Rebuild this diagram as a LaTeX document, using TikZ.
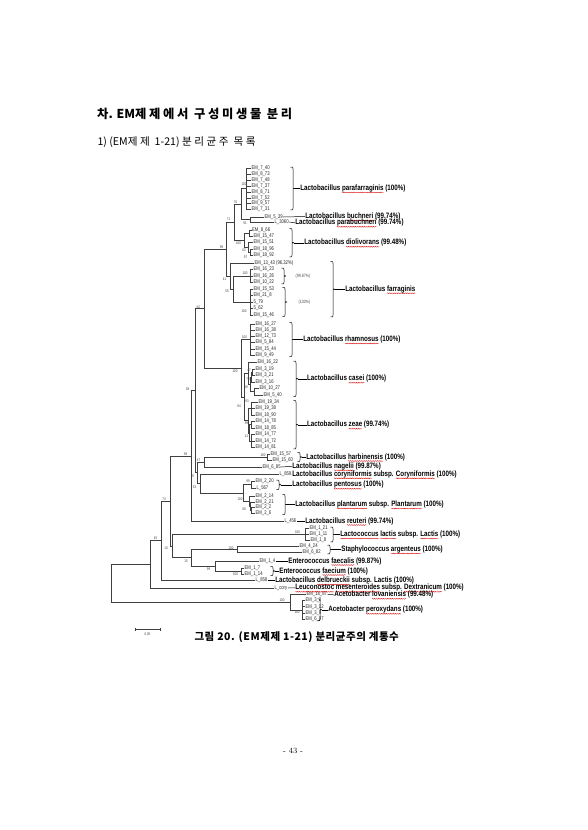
\documentclass[tikz,border=0pt]{standalone}
\usepackage{fontspec}
\usetikzlibrary{decorations.pathmorphing}
\newfontfamily\kor{Noto Sans CJK KR}
\newfontfamily\korH[LetterSpace=22]{Noto Sans CJK KR}
\newfontfamily\korS[LetterSpace=24]{Noto Sans CJK KR}
\newfontfamily\korC[LetterSpace=5]{Noto Sans CJK KR}
\newfontfamily\lfont[FakeStretch=0.78]{Liberation Sans}
\newfontfamily\sfont[FakeStretch=0.8]{Liberation Sans}
\newsavebox\sqbox
\newlength\sqw
\newcommand\sq[1]{\sbox\sqbox{#1}\setlength\sqw{\wd\sqbox}\rlap{\tikz[overlay]\draw[red!85!black,line width=0.3pt,decorate,decoration={snake,amplitude=0.45pt,segment length=1.8pt}] (0pt,-2pt) -- (\sqw,-2pt);}\usebox\sqbox}
\tikzset{
 br/.style={draw=black!75,line width=0.55pt},
 lf/.style={font=\lfont\fontsize{5.4}{5.4}\selectfont,inner sep=0.4pt,anchor=west,text=black!85},
 sp/.style={font=\sfont\bfseries\fontsize{7.8}{7.8}\selectfont,inner sep=0.2pt,anchor=west},
 bsl/.style={font=\lfont\fontsize{3.8}{3.8}\selectfont,inner sep=0pt,text=black!75},
 pct/.style={font=\lfont\fontsize{4.6}{4.6}\selectfont,inner sep=0.4pt,anchor=west,text=black!70},
 brkst/.style={draw=black,line width=0.5pt},
}
\newcommand\lv[4]{\node[lf] (#1) at (#2,#3) {#4};}
\newcommand\bv[3]{\node[bsl] at (#1,#2) {#3};}
\newcommand\nd[3]{\coordinate (#1) at (#2,#3);}
\newcommand\cn[2]{\foreach \chn in {#2} {\draw[br] (#1) |- (\chn);}}
\newcommand\brk[4]{%
 \draw[brkst] ({#1-2.5},#2) .. controls (#1,#2) .. (#1,{#2+2}) -- (#1,{#4-1.5}) .. controls (#1,#4) .. ({#1+2},#4);
 \draw[brkst] ({#1+2},#4) .. controls (#1,#4) .. (#1,{#4+1.5}) -- (#1,{#3-2}) .. controls (#1,#3) .. ({#1-2.5},#3);}
\begin{document}
\begin{tikzpicture}[x=1pt,y=-1pt]
\fill[white] (0,0) rectangle (587,830);
\useasboundingbox (0,0) rectangle (587,830);
% headings
\node[anchor=west,font=\bfseries\fontsize{12.3}{13}\selectfont,inner sep=0] (h1) at (97,114) {{\korH 차}{\kor. EM}{\korH 제제에서 구성미생물 분리}};
\node[anchor=west,font=\fontsize{10.6}{11}\selectfont,inner sep=0] (h2) at (97.3,142.3) {{\kor 1) (EM}{\korS 제제 }{\kor 1-21) }{\korS 분리균주 목록}};
% leaves
\lv{a1}{251}{168}{EM\_7\_40}
\lv{a2}{251}{174}{EM\_8\_73}
\lv{a3}{251}{180}{EM\_7\_48}
\lv{a4}{251}{186}{EM\_7\_37}
\lv{a5}{251}{192}{EM\_8\_71}
\lv{a6}{251}{198}{EM\_7\_52}
\lv{a7}{251}{203.5}{EM\_9\_57}
\lv{a8}{251}{209}{EM\_7\_31}
\lv{b1}{264}{217}{EM\_5\_39}
\lv{b2}{274}{222}{L\_3060}
\lv{d1a}{251.5}{230}{EM\_8\_66}
\lv{d1b}{253}{236}{EM\_15\_47}
\lv{d1c}{253}{242.5}{EM\_15\_51}
\lv{d1d}{253}{249}{EM\_18\_96}
\lv{d1e}{253}{255.5}{EM\_18\_92}
\lv{f0}{254}{263}{EM\_13\_43 (96.32\%)}
\lv{fa}{253}{269.5}{EM\_16\_23}
\lv{fb}{253}{276}{EM\_16\_26}
\lv{fc}{253}{282.5}{EM\_10\_22}
\lv{fd}{253}{289}{EM\_15\_53}
\lv{fe}{253}{295.5}{EM\_21\_8}
\lv{ff}{253}{302}{5\_79}
\lv{fg}{253}{308.5}{5\_62}
\lv{fh}{253}{315}{EM\_15\_46}
\lv{ra}{255}{324}{EM\_16\_27}
\lv{rb}{255}{330.2}{EM\_16\_38}
\lv{rc}{255}{336.4}{EM\_12\_73}
\lv{rd}{255}{342.6}{EM\_5\_84}
\lv{re}{255}{348.8}{EM\_15\_44}
\lv{rf}{255}{355}{EM\_9\_49}
\lv{ca}{257}{362.5}{EM\_16\_22}
\lv{cb}{255}{369}{EM\_3\_19}
\lv{cc}{255}{375.5}{EM\_3\_21}
\lv{cd}{255}{382}{EM\_3\_16}
\lv{ce}{259}{388.5}{EM\_10\_27}
\lv{cf}{263}{395}{EM\_5\_40}
\lv{za}{258}{402}{EM\_19\_34}
\lv{zb}{255}{408.5}{EM\_19\_38}
\lv{zc}{255}{415}{EM\_18\_90}
\lv{zd}{255}{421.5}{EM\_14\_78}
\lv{ze}{255}{428}{EM\_18\_85}
\lv{zf}{255}{434.5}{EM\_14\_77}
\lv{zg}{255}{441}{EM\_14\_72}
\lv{zh}{255}{447.5}{EM\_14\_81}
\lv{ha}{270}{454}{EM\_15\_57}
\lv{hb}{272}{460}{EM\_15\_60}
\lv{na}{262}{467}{EM\_6\_85}
\lv{co}{279}{474}{L\_859}
\lv{pa}{255}{481.5}{EM\_2\_20}
\lv{pb}{256}{488}{L\_567}
\lv{qa}{255}{496}{EM\_2\_14}
\lv{qb}{255}{502}{EM\_2\_21}
\lv{qc}{255}{507.5}{EM\_2\_2}
\lv{qd}{255}{513}{EM\_2\_6}
\lv{rt}{284}{521}{L\_456}
\lv{la}{309}{528.5}{EM\_1\_21}
\lv{lb}{309}{534.5}{EM\_1\_11}
\lv{lc}{310}{540.5}{EM\_1\_8}
\lv{sa}{299}{546.5}{EM\_4\_24}
\lv{sb}{302}{552.5}{EM\_6\_82}
\lv{ea}{259}{561}{EM\_1\_4}
\lv{eb}{244}{568}{EM\_1\_7}
\lv{ec}{244}{574}{EM\_1\_14}
\lv{de}{255}{580.5}{L\_858}
\lv{lu}{274}{588}{L\_cory}
\lv{aa}{306}{594.5}{EM\_18\_87}
\lv{ab}{305}{600.5}{EM\_3\_3}
\lv{ac}{305}{606.7}{EM\_3\_12}
\lv{ad}{305}{613}{EM\_3\_9}
\lv{ae}{305}{619}{EM\_6\_97}
% internal nodes
\nd{P1}{246}{188.5}\cn{P1}{a1.west,a2.west,a3.west,a4.west,a5.west,a6.west,a7.west,a8.west}
\nd{B}{250}{219.5}\cn{B}{b1.west,b2.west}
\nd{N76}{241.7}{204}\cn{N76}{P1,B}
\nd{d3}{249.5}{233}\cn{d3}{d1a.west,d1b.west}
\nd{d1}{250.5}{252.25}\cn{d1}{d1d.west,d1e.west}
\nd{d2}{248.5}{247.4}\cn{d2}{d1c.west,d1}
\nd{d4}{244}{240.2}\cn{d4}{d3,d2}
\nd{N71}{234}{222.1}\cn{N71}{N76,d4}
\nd{f1}{250}{276}\cn{f1}{fa.west,fb.west,fc.west}
\nd{f2}{250}{302}\cn{f2}{fd.west,fe.west,ff.west,fg.west,fh.west}
\nd{f3}{233}{289}\cn{f3}{f1,f2}
\nd{f4}{230}{276}\cn{f4}{f0.west,f3}
\nd{N99}{226.7}{249}\cn{N99}{N71,f4}
\nd{r1}{250}{339.5}\cn{r1}{ra.west,rb.west,rc.west,rd.west,re.west,rf.west}
\nd{c1}{252.5}{372.25}\cn{c1}{cb.west,cc.west}
\nd{c2}{251.5}{377.1}\cn{c2}{c1,cd.west}
\nd{c4}{254}{391.75}\cn{c4}{ce.west,cf.west}
\nd{c3}{250}{384.4}\cn{c3}{c2,c4}
\nd{c5}{248.5}{373.5}\cn{c5}{ca.west,c3}
\nd{z1}{251}{408.5}\cn{z1}{za.west,zb.west,zc.west}
\nd{z2}{251.5}{424.75}\cn{z2}{zd.west,ze.west}
\nd{z3}{251.5}{441}\cn{z3}{zf.west,zg.west,zh.west}
\nd{z4}{249.5}{432.9}\cn{z4}{z2,z3}
\nd{z5}{248}{420.7}\cn{z5}{z1,z4}
\nd{CZ}{244}{397.1}\cn{CZ}{c5,z5}
\nd{R}{241.7}{368.3}\cn{R}{r1,CZ}
\nd{N44}{204}{308.65}\cn{N44}{N99,R}
\nd{hb0}{267}{457}\cn{hb0}{ha.west,hb.west}
\nd{H}{204}{462}\cn{H}{hb0,na.west}
\nd{pe}{251}{484.75}\cn{pe}{pa.west,pb.west}
\nd{pl1}{251.5}{510.25}\cn{pl1}{qc.west,qd.west}
\nd{pl2}{250.5}{506.1}\cn{pl2}{qb.west,pl1}
\nd{pl3}{249}{501}\cn{pl3}{qa.west,pl2}
\nd{PP}{243}{492.9}\cn{PP}{pe,pl3}
\nd{Q}{200}{483.4}\cn{Q}{co.west,PP}
\nd{L}{197.5}{472.7}\cn{L}{H,Q}
\nd{N38}{195}{390.7}\cn{N38}{N44,L}
\nd{N58}{191.7}{455.85}\cn{N58}{N38,rt.west}
\nd{lac}{305}{534.5}\cn{lac}{la.west,lb.west,lc.west}
\nd{st}{237}{549.5}\cn{st}{sa.west,sb.west}
\nd{fm}{241}{571}\cn{fm}{eb.west,ec.west}
\nd{E}{215}{566}\cn{E}{ea.west,fm}
\nd{S}{191.7}{557.75}\cn{S}{st,E}
\nd{T}{172}{546.1}\cn{T}{lac,S}
\nd{U}{170}{501}\cn{U}{N58,T}
\nd{V}{161}{540.75}\cn{V}{U,de.west}
\nd{W}{150}{564.4}\cn{W}{V,lu.west}
\nd{A2}{302}{609.8}\cn{A2}{ab.west,ac.west,ad.west,ae.west}
\nd{A}{290}{602.1}\cn{A}{aa.west,A2}
\nd{root}{111.7}{583.2}\cn{root}{W,A}
% bootstrap values
\bv{244}{184.5}{100}
\bv{235.5}{202}{76}
\bv{245}{223.5}{91}
\bv{228.5}{219.5}{71}
\bv{238.5}{243}{100}
\bv{244}{250.5}{62}
\bv{245.5}{257.5}{97}
\bv{221.5}{247}{99}
\bv{245}{273}{100}
\bv{227}{291.5}{55}
\bv{224.5}{279.5}{41}
\bv{244}{311}{100}
\bv{198}{307}{44}
\bv{244.5}{337.5}{100}
\bv{235}{371.5}{100}
\bv{249}{370.5}{47}
\bv{248}{379}{79}
\bv{246}{387}{99}
\bv{247}{401}{93}
\bv{239}{406.5}{84}
\bv{246.5}{423}{99}
\bv{246.5}{436}{41}
\bv{263}{455}{100}
\bv{198.5}{460.5}{47}
\bv{193}{476.5}{9}
\bv{194.5}{487.5}{53}
\bv{248}{481}{99}
\bv{240}{499.5}{100}
\bv{244}{509}{80}
\bv{187.5}{389.5}{38}
\bv{185.5}{454}{58}
\bv{164}{499.5}{74}
\bv{297.5}{532.5}{100}
\bv{231}{548}{100}
\bv{208.5}{569.5}{99}
\bv{235.5}{574}{100}
\bv{186}{561}{15}
\bv{166}{548}{10}
\bv{155.5}{538.5}{45}
\bv{282}{600}{100}
\bv{297}{612.5}{100}
% species labels
\node[sp] (s1) at (300,188.5) {Lactobacillus \sq{parafarraginis} (100\%)};
\node[sp] (s2) at (305,216.5) {Lactobacillus \sq{buchneri} (99.74\%)};
\node[sp] (s3) at (295,222.8) {Lactobacillus \sq{parabuchneri} (99.74\%)};
\node[sp] (s4) at (304,242.75) {Lactobacillus \sq{diolivorans} (99.48\%)};
\node[pct] (p1) at (295,276) {(99.87\%)};
\node[pct] (p2) at (298,302) {(100\%)};
\node[sp] (s5) at (345,289.25) {Lactobacillus \sq{farraginis}};
\node[sp] (s6) at (303,339.5) {Lactobacillus \sq{rhamnosus} (100\%)};
\node[sp] (s7) at (306.7,378.75) {Lactobacillus \sq{casei} (100\%)};
\node[sp] (s8) at (306.7,424.75) {Lactobacillus \sq{zeae} (99.74\%)};
\node[sp] (s9) at (306,457) {Lactobacillus \sq{harbinensis} (100\%)};
\node[sp] (s10) at (292,466.3) {Lactobacillus \sq{nagelii} (99.87\%)};
\node[sp] (s11) at (292,474.3) {Lactobacillus \sq{coryniformis} subsp. \sq{Coryniformis} (100\%)};
\node[sp] (s12) at (292,484.75) {Lactobacillus \sq{pentosus} (100\%)};
\node[sp] (s13) at (295,504.5) {Lactobacillus \sq{plantarum} subsp. \sq{Plantarum} (100\%)};
\node[sp] (s14) at (305,521) {Lactobacillus \sq{reuteri} (99.74\%)};
\node[sp] (s15) at (340,534.5) {\sq{Lactococcus} \sq{lactis} subsp. \sq{Lactis} (100\%)};
\node[sp] (s16) at (341,549.5) {Staphylococcus \sq{argenteus} (100\%)};
\node[sp] (s17) at (288,561) {Enterococcus \sq{faecalis} (99.87\%)};
\node[sp] (s18) at (279,571) {Enterococcus \sq{faecium} (100\%)};
\node[sp] (s19) at (275,580.5) {Lactobacillus \sq{delbrueckii} subsp. Lactis (100\%)};
\node[sp] (s20) at (295,587.8) {\sq{Leuconostoc} \sq{mesenteroides} subsp. \sq{Dextranicum} (100\%)};
\node[sp] (s21) at (334,594.8) {Acetobacter \sq{lovaniensis} (99.48\%)};
\node[sp] (s22) at (328,609.8) {Acetobacter \sq{peroxydans} (100\%)};
% brackets
\brk{293}{167}{210}{188.5}\draw[brkst] (295,188.5) -- (s1.west);
\brk{292}{228.5}{257}{242.75}\draw[brkst] (294,242.75) -- (s4.west);
\brk{284}{268}{284}{276}
\brk{285}{287.5}{316.5}{302}
\brk{333}{261.5}{317}{289.25}\draw[brkst] (335,289.25) -- (s5.west);
\brk{292}{322.5}{356.5}{339.5}\draw[brkst] (294,339.5) -- (s6.west);
\brk{296}{361}{396.5}{378.75}\draw[brkst] (298,378.75) -- (s7.west);
\brk{296}{400.5}{449}{424.75}\draw[brkst] (298,424.75) -- (s8.west);
\brk{300}{452.5}{461.5}{457}\draw[brkst] (302,457) -- (s9.west);
\brk{279}{480}{489.5}{484.75}\draw[brkst] (281,484.75) -- (s12.west);
\brk{285}{494.5}{514.5}{504.5}\draw[brkst] (287,504.5) -- (s13.west);
\brk{333}{527}{542}{534.5}\draw[brkst] (335,534.5) -- (s15.west);
\brk{330}{545}{554}{549.5}\draw[brkst] (332,549.5) -- (s16.west);
\brk{273}{566.5}{575.5}{571}\draw[brkst] (275,571) -- (s18.west);
\brk{320}{598.8}{620.8}{609.8}\draw[brkst] (322,609.8) -- (s22.west);
\draw[brkst] (b1.east) -- (s2.west);
\draw[brkst] (b2.east) -- (s3.west);
\draw[brkst] (na.east) -- (s10.west);
\draw[brkst] (co.east) -- (s11.west);
\draw[brkst] (rt.east) -- (s14.west);
\draw[brkst] (ea.east) -- (s17.west);
\draw[brkst] (de.east) -- (s19.west);
\draw[brkst] (lu.east) -- (s20.west);
\draw[brkst] (aa.east) -- (s21.west);
% scale bar
\coordinate (sb1) at (135,629);
\coordinate (sb2) at (160,629);
\draw[br] (sb1) -- (sb2);
\draw[br] (135,627.5) -- (135,630.5);
\draw[br] (160,627.5) -- (160,630.5);
\node[bsl] (sbl) at (147.5,634.5) {0.05};
% caption and page number
\node[font=\korC\bfseries\fontsize{10.5}{11}\selectfont,inner sep=0] (cap) at (296.7,637) {그림 20. (EM제제 1-21) 분리균주의 계통수};
\node[font=\fontsize{8}{9}\selectfont,inner sep=0] (pg) at (293,751) {- 43 -};
\end{tikzpicture}
\end{document}
